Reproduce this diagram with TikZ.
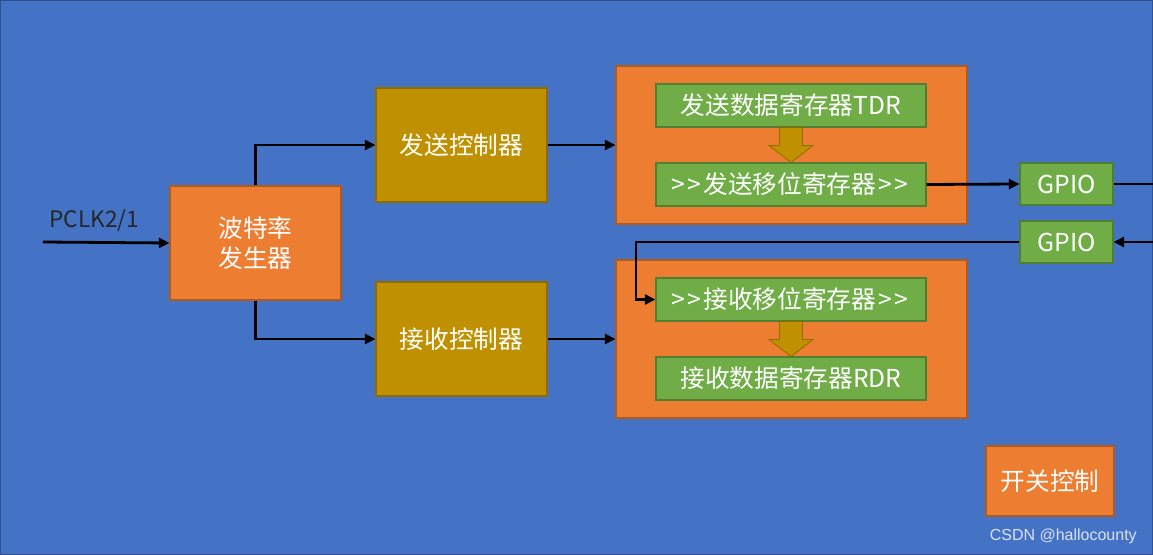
\documentclass[tikz,border=0pt]{standalone}
\usepackage{fontspec}
\setmainfont{Noto Sans CJK SC}
\setsansfont{Liberation Sans}
\usepackage{tikz}
\usetikzlibrary{arrows.meta}
\usetikzlibrary{calc}
\usetikzlibrary{positioning}
\definecolor{bgblue}{RGB}{68,114,196}
\definecolor{bgline}{RGB}{47,82,143}
\definecolor{ocre}{RGB}{237,125,49}
\definecolor{ocreline}{RGB}{174,90,33}
\definecolor{gold}{RGB}{191,144,0}
\definecolor{goldline}{RGB}{143,107,0}
\definecolor{leaf}{RGB}{112,173,71}
\definecolor{leafline}{RGB}{80,126,50}
\newcommand{\blkarrow}[2]{%
  \draw[goldline,fill=gold,line width=0.6pt]
    ($(#1.south)+(-11.5,0)$) -- ($(#1.south)+(11.5,0)$) -- ($(#1.south)+(11.5,18)$)
    -- ($(#1.south)+(22,18)$) -- (#2.north) -- ($(#1.south)+(-22,18)$)
    -- ($(#1.south)+(-11.5,18)$) -- cycle;}
\newcommand{\shr}{>\kern1.8pt>\kern1.8pt}

\begin{document}
\begin{tikzpicture}[x=0.75pt,y=-0.75pt,
  box/.style={rectangle,draw,line width=0.8pt,text=white,inner sep=0pt,
    font=\fontsize{18.5pt}{22.5pt}\selectfont,align=center},
  orbox/.style={box,fill=ocre,draw=ocreline},
  gdbox/.style={box,fill=gold,draw=goldline,minimum width=128.25pt,minimum height=85.5pt},
  grbox/.style={box,fill=leaf,draw=leafline,minimum width=202.5pt,minimum height=32.25pt},
  gpio/.style={box,fill=leaf,draw=leafline,minimum width=69.75pt,minimum height=31.5pt},
  wire/.style={line width=2.1pt,-{Triangle[length=8pt,width=7.5pt]}}]
\useasboundingbox (0,0) rectangle (1153,555);
\fill[bgblue] (0,0) rectangle (1153,555);
\draw[bgline,line width=1pt] (0.7,0.7) rectangle (1152.3,554.3);

% left part
\node[orbox,minimum width=128.25pt,minimum height=85.5pt] (baud) at (255.5,243) {波特率\\发生器};
\node[gdbox] (txc) at (461.5,145) {发送控制器};
\node[gdbox] (rxc) at (461.5,339) {接收控制器};

% register groups
\node[orbox,minimum width=263.25pt,minimum height=118.5pt] (txg) at (791.5,145) {};
\node[orbox,minimum width=263.25pt,minimum height=118.5pt] (rxg) at (791.5,339) {};
\node[grbox] (tdr) at (791,105.5) {发送数据寄存器TDR};
\node[grbox] (txs) at (791,184.5) {\shr 发送移位寄存器\kern1.8pt\shr};
\node[grbox] (rxs) at (791,299.5) {\shr 接收移位寄存器\kern1.8pt\shr};
\node[grbox] (rdr) at (791,378.5) {接收数据寄存器RDR};
\blkarrow{tdr}{txs}
\blkarrow{rxs}{rdr}

% pins
\node[gpio] (gpa) at (1066.5,184) {GPIO};
\node[gpio] (gpb) at (1066.5,242) {GPIO};
\node[orbox,minimum width=96pt,minimum height=52.5pt] (sw) at (1050,481) {开关控制};

\coordinate (clk) at (43,242);
\coordinate (outR) at (1153,184);
\coordinate (inR) at (1153,242);
\coordinate (turn) at (636,242);
\node[font=\fontsize{17pt}{20pt}\selectfont,text=black!85,anchor=south west,inner sep=0pt] (clkl) at (49,232) {PCLK2/1};

% connections
\draw[wire] (clk) -- (baud.west);
\draw[wire] (baud.north) |- (txc.west);
\draw[wire] (baud.south) |- (rxc.west);
\draw[wire] (txc.east) -- (txg.west);
\draw[wire] (rxc.east) -- (rxg.west);
\draw[wire] (txs.east) -- (gpa.west);
\draw[line width=2.1pt] (gpa.east) -- (outR);
\draw[wire] (inR) -- (gpb.east);
\draw[wire] (gpb.west) -- (turn) |- (rxs.west);

\node[font=\sffamily\fontsize{12pt}{13pt}\selectfont,text=white!80!bgblue,anchor=east,inner sep=0pt] (mark) at (1137,536) {CSDN @hallocounty};
\end{tikzpicture}
\end{document}
